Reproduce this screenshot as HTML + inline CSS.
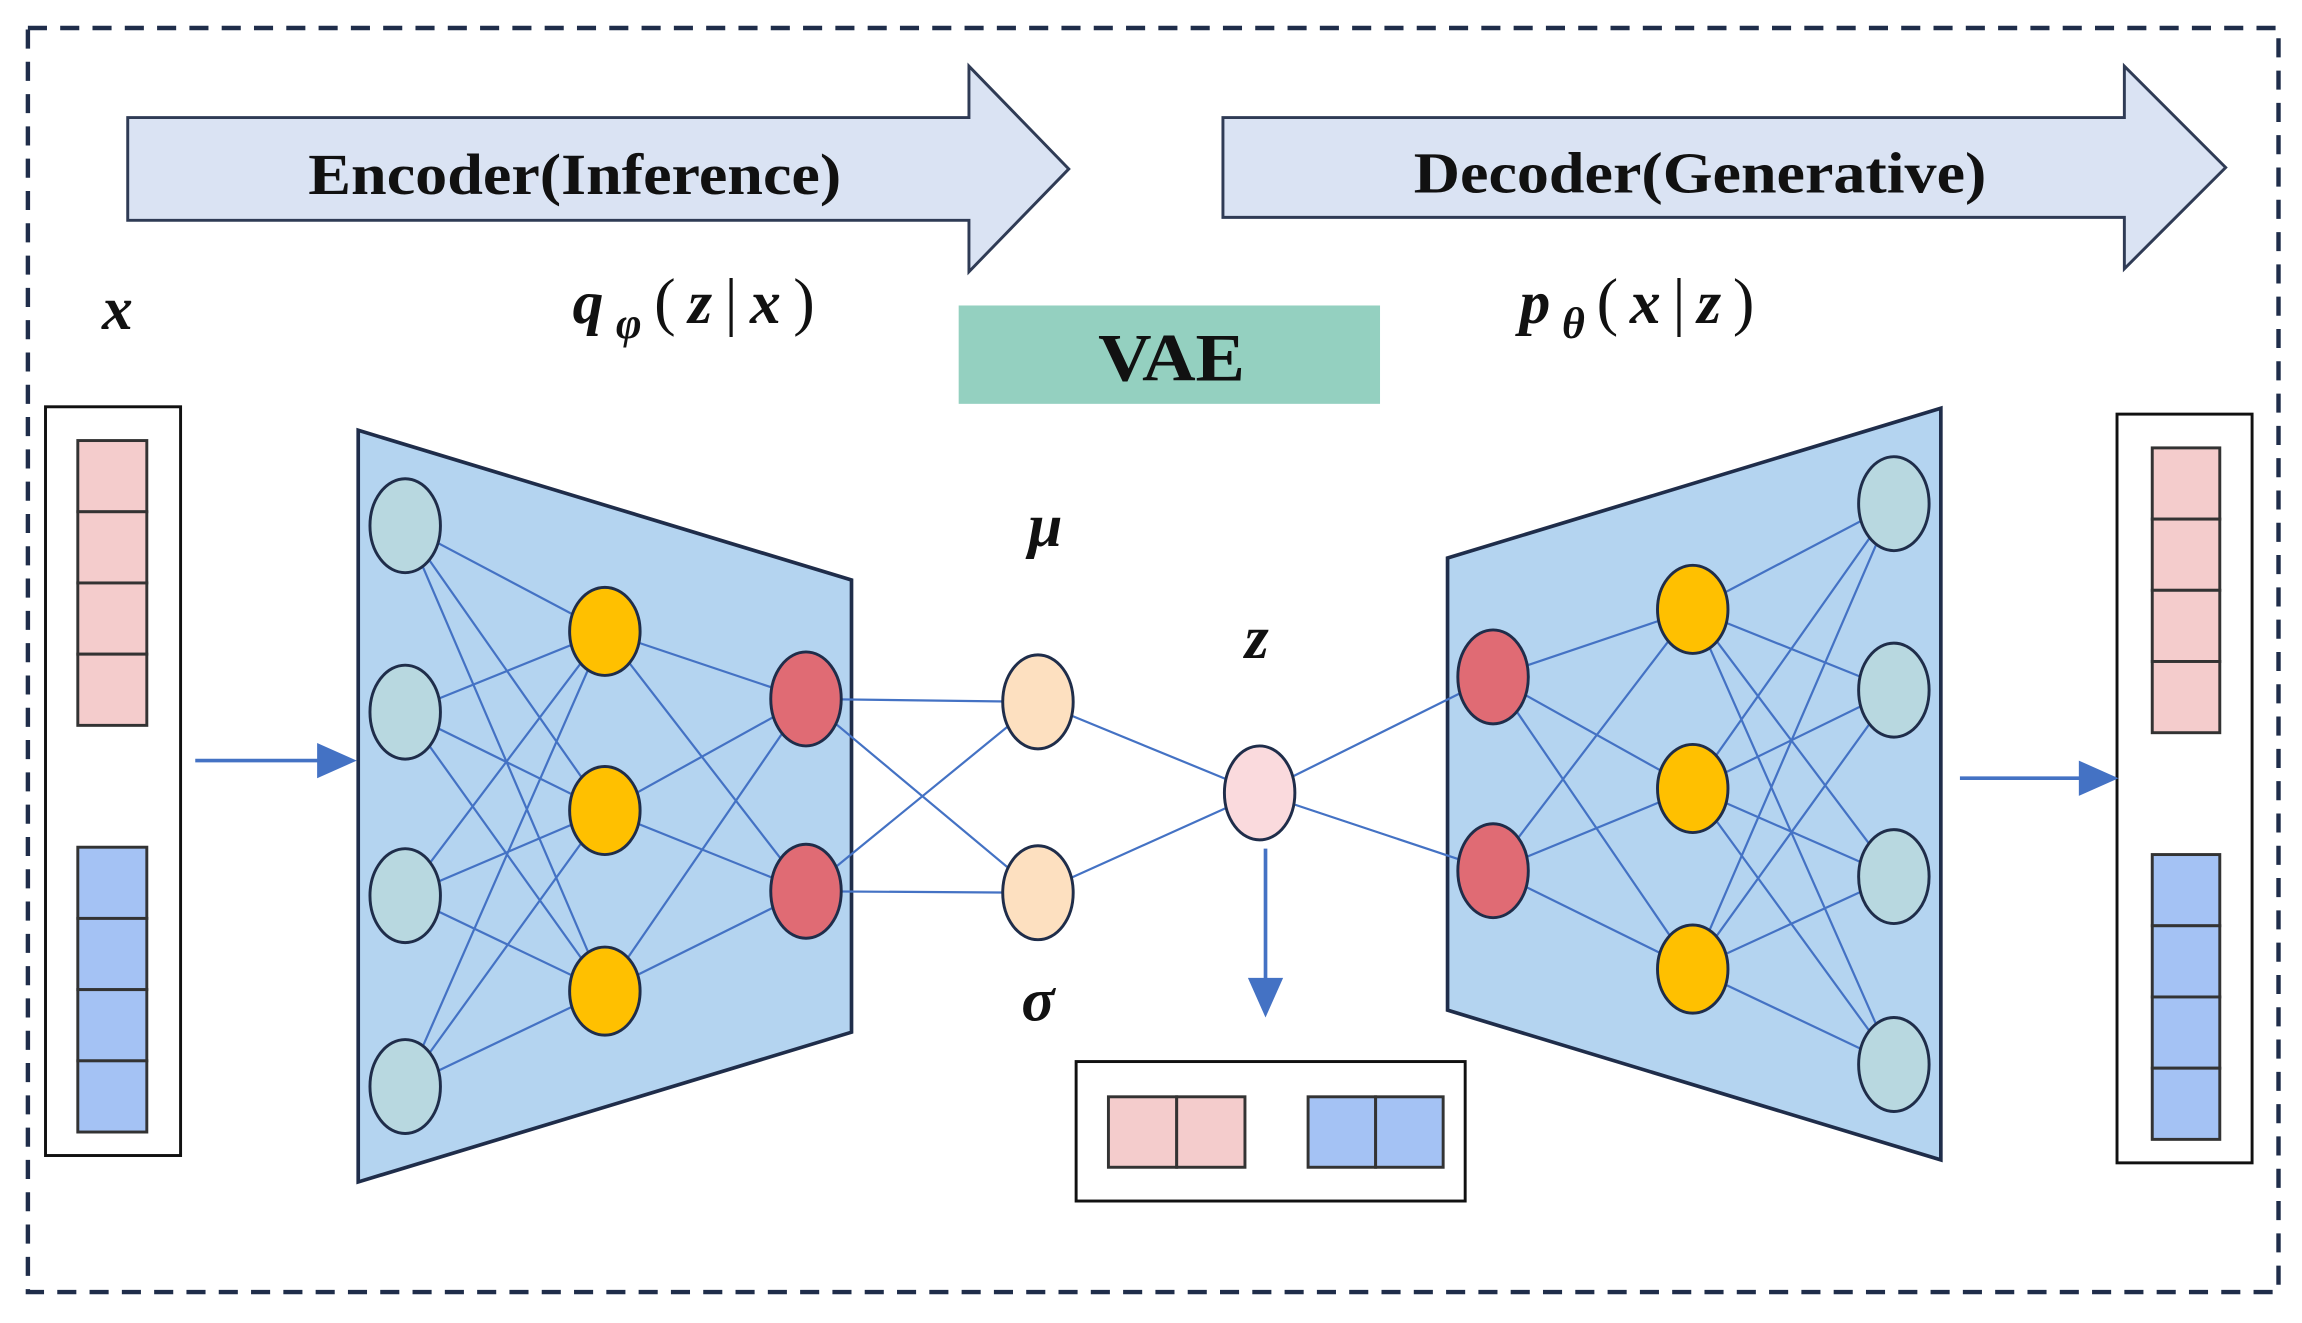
<!DOCTYPE html>
<html><head><meta charset="utf-8"><style>html,body{margin:0;padding:0;background:#fff}svg{display:block}</style></head>
<body>
<svg width="2302" height="1323" viewBox="0 0 1568 901" xmlns="http://www.w3.org/2000/svg" font-family="'Liberation Serif',serif">
<rect x="0" y="0" width="1568" height="901" fill="#fff"/>
<rect x="19" y="19" width="1533" height="861" fill="none" stroke="#1f2d4a" stroke-width="3" stroke-dasharray="13 9"/>
<polygon points="87,80 660,80 660,45 728,115 660,185 660,150 87,150" fill="#dae3f3" stroke="#2f3b55" stroke-width="2"/>
<text x="210" y="132" font-size="40" font-weight="bold" fill="#111" textLength="363" lengthAdjust="spacingAndGlyphs">Encoder(Inference)</text>
<polygon points="833,80 1447,80 1447,45 1516,114 1447,183 1447,148 833,148" fill="#dae3f3" stroke="#2f3b55" stroke-width="2"/>
<text x="963" y="131" font-size="40" font-weight="bold" fill="#111" textLength="390" lengthAdjust="spacingAndGlyphs">Decoder(Generative)</text>
<text x="80" y="224" text-anchor="middle" font-size="42" font-weight="bold" font-style="italic" fill="#111">x</text>
<text x="390" y="220" font-size="42" font-weight="bold" font-style="italic" fill="#111" textLength="165" lengthAdjust="spacing">q<tspan font-size="30" dy="10">φ</tspan><tspan dy="-10" font-weight="normal" font-style="normal" font-size="44">(</tspan>z<tspan font-weight="normal" font-style="normal" font-size="44">|</tspan>x<tspan font-weight="normal" font-style="normal" font-size="44">)</tspan></text>
<text x="1035" y="220" font-size="42" font-weight="bold" font-style="italic" fill="#111" textLength="160" lengthAdjust="spacing">p<tspan font-size="30" dy="10">θ</tspan><tspan dy="-10" font-weight="normal" font-style="normal" font-size="44">(</tspan>x<tspan font-weight="normal" font-style="normal" font-size="44">|</tspan>z<tspan font-weight="normal" font-style="normal" font-size="44">)</tspan></text>
<rect x="653" y="208" width="287" height="67" fill="#94d0c0"/>
<text x="748" y="259" font-size="46" font-weight="bold" fill="#111" textLength="100" lengthAdjust="spacingAndGlyphs">VAE</text>
<rect x="31" y="277" width="92" height="510" fill="#fff" stroke="#111" stroke-width="2"/>
<g stroke="#333" stroke-width="2">
<rect x="53" y="300" width="47" height="48.5" fill="#f4cccc"/><rect x="53" y="348.5" width="47" height="48.5" fill="#f4cccc"/><rect x="53" y="397" width="47" height="48.5" fill="#f4cccc"/><rect x="53" y="445.5" width="47" height="48.5" fill="#f4cccc"/>
<rect x="53" y="577" width="47" height="48.5" fill="#a4c2f4"/><rect x="53" y="625.5" width="47" height="48.5" fill="#a4c2f4"/><rect x="53" y="674" width="47" height="48.5" fill="#a4c2f4"/><rect x="53" y="722.5" width="47" height="48.5" fill="#a4c2f4"/>
</g>
<rect x="1442" y="282" width="92" height="510" fill="none" stroke="#111" stroke-width="2"/>
<g stroke="#333" stroke-width="2">
<rect x="1466" y="305" width="46" height="48.5" fill="#f4cccc"/><rect x="1466" y="353.5" width="46" height="48.5" fill="#f4cccc"/><rect x="1466" y="402" width="46" height="48.5" fill="#f4cccc"/><rect x="1466" y="450.5" width="46" height="48.5" fill="#f4cccc"/>
<rect x="1466" y="582" width="46" height="48.5" fill="#a4c2f4"/><rect x="1466" y="630.5" width="46" height="48.5" fill="#a4c2f4"/><rect x="1466" y="679" width="46" height="48.5" fill="#a4c2f4"/><rect x="1466" y="727.5" width="46" height="48.5" fill="#a4c2f4"/>
</g>
<g stroke="#4472c4" stroke-width="2.5" fill="#4472c4">
<line x1="133" y1="518" x2="220" y2="518"/><polygon points="243,518 216,506 216,530" stroke="none"/>
<line x1="1335" y1="530" x2="1420" y2="530"/><polygon points="1443,530 1416,518 1416,542" stroke="none"/>
<line x1="862" y1="578" x2="862" y2="670"/><polygon points="862,693 850,666 874,666" stroke="none"/>
</g>
<polygon points="244,293 580,395 580,703 244,805" fill="#b4d4f0" stroke="#1f2d4a" stroke-width="2.5"/>
<polygon points="986,380 1322,278 1322,790 986,688" fill="#b4d4f0" stroke="#1f2d4a" stroke-width="2.5"/>
<g stroke="#4472c4" stroke-width="1.5">
<path d="M276,358L412,430M276,358L412,552M276,358L412,675M276,485L412,430M276,485L412,552M276,485L412,675M276,610L412,430M276,610L412,552M276,610L412,675M276,740L412,430M276,740L412,552M276,740L412,675"/>
<path d="M412,430L549,476M412,430L549,607M412,552L549,476M412,552L549,607M412,675L549,476M412,675L549,607"/>
<path d="M549,476L707,478M549,476L707,608M549,607L707,478M549,607L707,608"/>
<path d="M707,478L858,540M707,608L858,540M858,540L1017,461M858,540L1017,593"/>
<path d="M1017,461L1153,415M1017,461L1153,537M1017,461L1153,660M1017,593L1153,415M1017,593L1153,537M1017,593L1153,660"/>
<path d="M1153,415L1290,343M1153,415L1290,470M1153,415L1290,597M1153,415L1290,725M1153,537L1290,343M1153,537L1290,470M1153,537L1290,597M1153,537L1290,725M1153,660L1290,343M1153,660L1290,470M1153,660L1290,597M1153,660L1290,725"/>
</g>
<g stroke="#1f2d4a" stroke-width="2">
<g fill="#b8d8e0"><ellipse cx="276" cy="358" rx="24" ry="32"/><ellipse cx="276" cy="485" rx="24" ry="32"/><ellipse cx="276" cy="610" rx="24" ry="32"/><ellipse cx="276" cy="740" rx="24" ry="32"/>
<ellipse cx="1290" cy="343" rx="24" ry="32"/><ellipse cx="1290" cy="470" rx="24" ry="32"/><ellipse cx="1290" cy="597" rx="24" ry="32"/><ellipse cx="1290" cy="725" rx="24" ry="32"/></g>
<g fill="#ffc000"><ellipse cx="412" cy="430" rx="24" ry="30"/><ellipse cx="412" cy="552" rx="24" ry="30"/><ellipse cx="412" cy="675" rx="24" ry="30"/>
<ellipse cx="1153" cy="415" rx="24" ry="30"/><ellipse cx="1153" cy="537" rx="24" ry="30"/><ellipse cx="1153" cy="660" rx="24" ry="30"/></g>
<g fill="#e06b74"><ellipse cx="549" cy="476" rx="24" ry="32"/><ellipse cx="549" cy="607" rx="24" ry="32"/><ellipse cx="1017" cy="461" rx="24" ry="32"/><ellipse cx="1017" cy="593" rx="24" ry="32"/></g>
<g fill="#fde0c0"><ellipse cx="707" cy="478" rx="24" ry="32"/><ellipse cx="707" cy="608" rx="24" ry="32"/></g>
<ellipse cx="858" cy="540" rx="24" ry="32" fill="#fadadd"/>
</g>
<text x="712" y="372" text-anchor="middle" font-size="42" font-weight="bold" font-style="italic" fill="#111">μ</text>
<text x="707" y="695" text-anchor="middle" font-size="42" font-weight="bold" font-style="italic" fill="#111">σ</text>
<text x="856" y="448" text-anchor="middle" font-size="42" font-weight="bold" font-style="italic" fill="#111">z</text>
<rect x="733" y="723" width="265" height="95" fill="#fff" stroke="#111" stroke-width="2"/>
<g stroke="#333" stroke-width="2">
<rect x="755" y="747" width="46.5" height="48" fill="#f4cccc"/><rect x="801.5" y="747" width="46.5" height="48" fill="#f4cccc"/>
<rect x="891" y="747" width="46" height="48" fill="#a4c2f4"/><rect x="937" y="747" width="46" height="48" fill="#a4c2f4"/>
</g>
</svg>
</body></html>
